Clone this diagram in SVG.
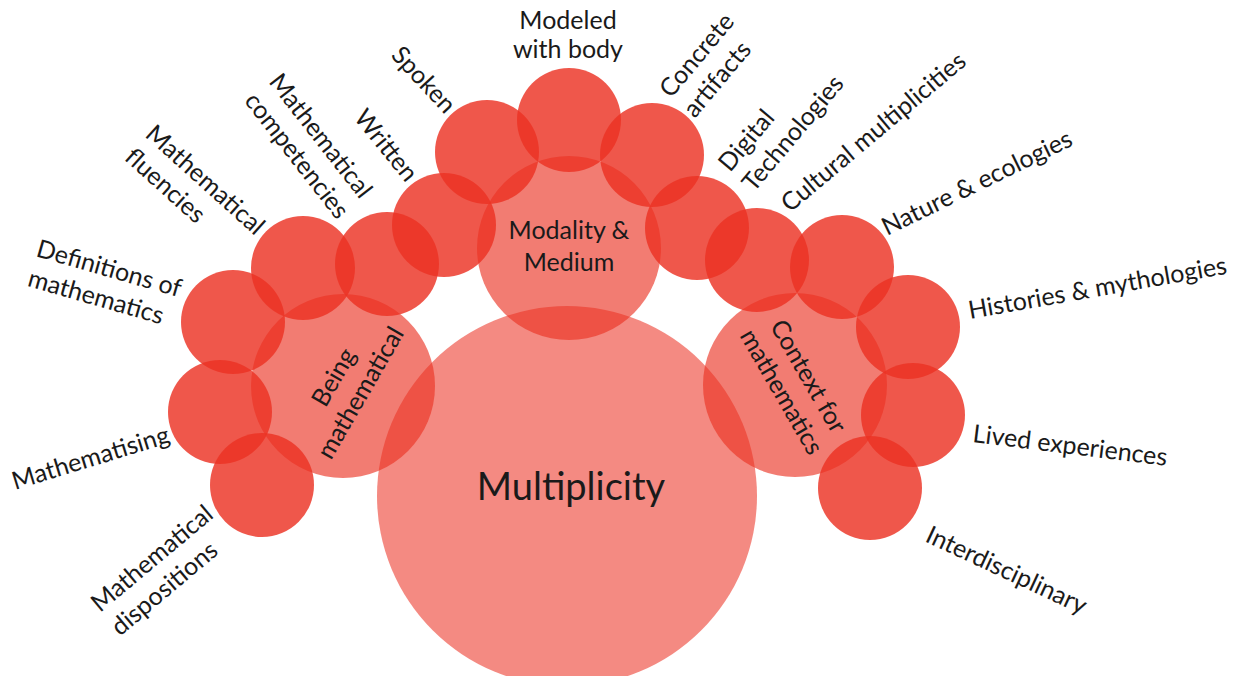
<svg xmlns="http://www.w3.org/2000/svg" width="1243" height="676" viewBox="0 0 1243 676">
  <style>
    .core { fill: rgb(235,50,35); fill-opacity: 0.57; }
    .theme { fill: rgb(235,50,35); fill-opacity: 0.64; }
    .facet { fill: rgb(235,50,35); fill-opacity: 0.82; }
    text { font-family: Lato, "Liberation Sans", sans-serif; fill: #1a1a1a; font-size: 25px; }
    .mid { text-anchor: middle; }
    .big { font-size: 38px; }
  </style>
  <rect width="1243" height="676" fill="#ffffff"/>

  <!-- central concept -->
  <g id="multiplicity">
    <circle class="core" cx="567" cy="496" r="190"/>
    <text class="mid big" x="571" y="500">Multiplicity</text>
  </g>

  <!-- three themes -->
  <g id="being-mathematical">
    <circle class="theme" cx="343" cy="386" r="92"/>
    <g transform="translate(347,385) rotate(-60)">
      <text class="mid" x="0" y="-7">Being</text>
      <text class="mid" x="0" y="24">mathematical</text>
    </g>
  </g>
  <g id="modality-medium">
    <circle class="theme" cx="569" cy="248" r="92"/>
    <text class="mid" x="569" y="239">Modality &amp;</text>
    <text class="mid" x="569" y="271">Medium</text>
  </g>
  <g id="context-for-mathematics">
    <circle class="theme" cx="795" cy="385" r="92"/>
    <g transform="translate(795,384) rotate(60)">
      <text class="mid" x="0" y="-7">Context for</text>
      <text class="mid" x="0" y="24">mathematics</text>
    </g>
  </g>

  <!-- facets of being mathematical -->
  <g id="definitions">
    <circle class="facet" cx="233" cy="322" r="52"/>
    <g transform="translate(35,256) rotate(16)">
      <text x="0" y="0">Definitions of</text>
      <text x="0" y="31">mathematics</text>
    </g>
  </g>
  <g id="fluencies">
    <circle class="facet" cx="303" cy="268" r="52"/>
    <g transform="translate(144,136) rotate(42)">
      <text x="0" y="0">Mathematical</text>
      <text x="0" y="31">fluencies</text>
    </g>
  </g>
  <g id="competencies">
    <circle class="facet" cx="387" cy="264" r="52"/>
    <g transform="translate(268,82) rotate(52)">
      <text x="0" y="0">Mathematical</text>
      <text x="0" y="31">competencies</text>
    </g>
  </g>
  <g id="mathematising">
    <circle class="facet" cx="220" cy="412" r="52"/>
    <text transform="translate(15,490) rotate(-17)">Mathematising</text>
  </g>
  <g id="dispositions">
    <circle class="facet" cx="262" cy="485" r="52"/>
    <g transform="translate(100,613) rotate(-40)">
      <text x="0" y="0">Mathematical</text>
      <text x="0" y="31">dispositions</text>
    </g>
  </g>

  <!-- facets of modality & medium -->
  <g id="written">
    <circle class="facet" cx="444" cy="225" r="52"/>
    <text transform="translate(353,118) rotate(51)">Written</text>
  </g>
  <g id="spoken">
    <circle class="facet" cx="487" cy="152" r="52"/>
    <text transform="translate(390,56) rotate(47)">Spoken</text>
  </g>
  <g id="modeled-with-body">
    <circle class="facet" cx="569" cy="120" r="52"/>
    <text class="mid" x="568" y="29">Modeled</text>
    <text class="mid" x="568" y="58">with body</text>
  </g>
  <g id="concrete-artifacts">
    <circle class="facet" cx="652" cy="155" r="52"/>
    <g transform="translate(671,99) rotate(-50)">
      <text x="0" y="0">Concrete</text>
      <text x="0" y="31">artifacts</text>
    </g>
  </g>
  <g id="digital-technologies">
    <circle class="facet" cx="697" cy="228" r="52"/>
    <g transform="translate(730,173) rotate(-50)">
      <text x="0" y="0">Digital</text>
      <text x="0" y="31">Technologies</text>
    </g>
  </g>

  <!-- facets of context for mathematics -->
  <g id="cultural-multiplicities">
    <circle class="facet" cx="757" cy="260" r="52"/>
    <text transform="translate(790,213) rotate(-40)">Cultural multiplicities</text>
  </g>
  <g id="nature-ecologies">
    <circle class="facet" cx="842" cy="267" r="52"/>
    <text transform="translate(887,236) rotate(-26)">Nature &amp; ecologies</text>
  </g>
  <g id="histories-mythologies">
    <circle class="facet" cx="908" cy="327" r="52"/>
    <text transform="translate(970,319) rotate(-10)">Histories &amp; mythologies</text>
  </g>
  <g id="lived-experiences">
    <circle class="facet" cx="913" cy="415" r="52"/>
    <text transform="translate(972,442) rotate(7)">Lived experiences</text>
  </g>
  <g id="interdisciplinary">
    <circle class="facet" cx="870" cy="488" r="52"/>
    <text transform="translate(924,541) rotate(25)">Interdisciplinary</text>
  </g>
</svg>
